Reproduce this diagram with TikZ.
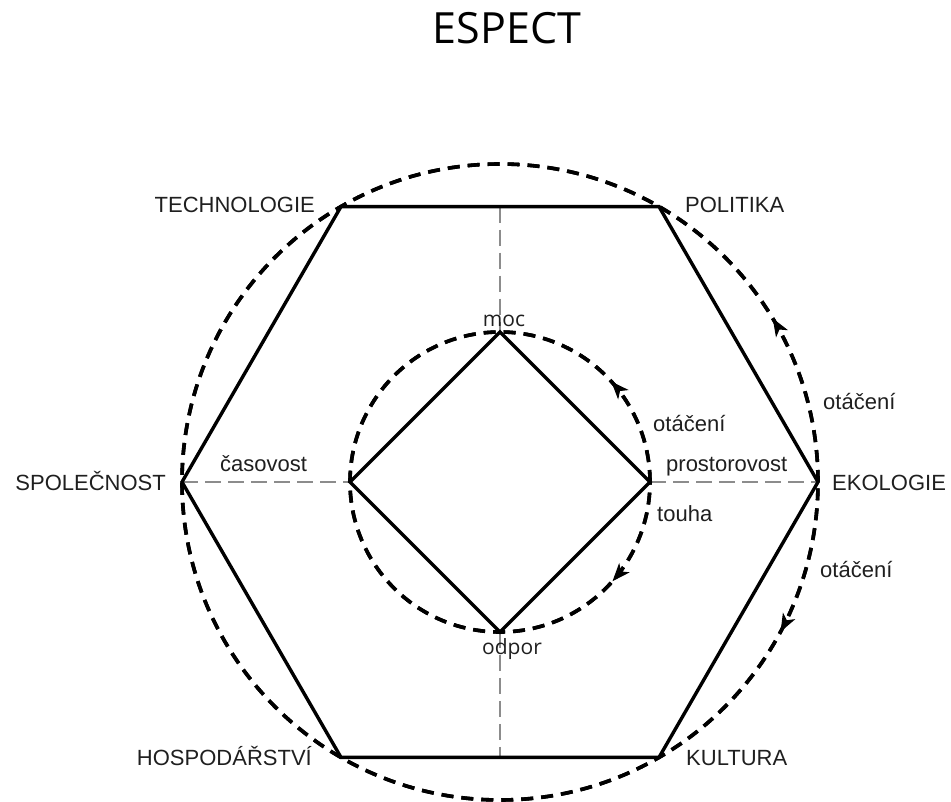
\documentclass[tikz,border=0pt]{standalone}
\usepackage{fontspec}
\setmainfont{Liberation Sans}
\newfontfamily\osans{Open Sans}
\usetikzlibrary{arrows.meta,decorations.markings}
\tikzset{ringtip/.tip={Stealth[length=18pt,width=14pt,inset=5pt]}}
\begin{document}
\begin{tikzpicture}[x=1pt,y=1pt,
  edge/.style={line width=3.4pt,line join=miter},
  ring/.style={line width=3.6pt,dash pattern=on 12pt off 8pt},
  axis/.style={line width=2pt,black!45,dash pattern=on 16pt off 7pt},
  lbl/.style={inner sep=0pt,font=\fontsize{22}{26}\selectfont,text=black!88},
  olbl/.style={inner sep=0pt,font=\osans\fontsize{21}{25}\selectfont,text=black!88},
  ccw/.style={postaction={decorate},decoration={markings,mark=at position #1 with {\arrow[line width=1pt]{ringtip}}}},
  cw/.style={postaction={decorate},decoration={markings,mark=at position #1 with {\arrowreversed[line width=1pt]{ringtip}}}}
]
\useasboundingbox (0,0) rectangle (951,801);
\coordinate (C) at (500,319);
% hexagon vertices
\coordinate (E) at (818,319);
\coordinate (P) at (659,594.4);
\coordinate (T) at (341,594.4);
\coordinate (S) at (182,319);
\coordinate (H) at (341,43.6);
\coordinate (K) at (659,43.6);
\coordinate (TP) at (500,594.4);
\coordinate (HK) at (500,43.6);
% diamond vertices
\coordinate (r) at (650,319);
\coordinate (m) at (500,469);
\coordinate (l) at (350,319);
\coordinate (o) at (500,169);
% grey axes
\draw[axis] (S) -- (l);
\draw[axis] (r) -- (E);
\draw[axis] (TP) -- (m);
\draw[axis] (o) -- (HK);
% circles
\draw[ring,ccw=0.086] (C) circle (318);
\draw[ring,cw=0.922] (C) circle (318);
\draw[ring,ccw=0.117] (C) circle (150);
\draw[ring,cw=0.885] (C) circle (150);
% hexagon and diamond
\draw[edge] (E) -- (P) -- (T) -- (S) -- (H) -- (K) -- cycle;
\draw[edge] (r) -- (m) -- (l) -- (o) -- cycle;
% labels
\node[inner sep=0pt,font=\osans\fontsize{43}{48}\selectfont] (title) at (507,773) {ESPECT};
\node[lbl,anchor=base east] (tech) at (315,588) {TECHNOLOGIE};
\node[lbl,anchor=base west] (pol) at (685,588) {POLITIKA};
\node[lbl,anchor=base east] (spol) at (166,310) {SPOLEČNOST};
\node[lbl,anchor=base west] (eko) at (832,310) {EKOLOGIE};
\node[lbl,anchor=base east] (hosp) at (312,35) {HOSPODÁŘSTVÍ};
\node[lbl,anchor=base west] (kult) at (686,35) {KULTURA};
\node[lbl,anchor=base west] (cas) at (220,329) {časovost};
\node[lbl,anchor=base west] (pros) at (666,329) {prostorovost};
\node[lbl,anchor=base west] (touha) at (657,279) {touha};
\node[lbl,anchor=base west] (ot1) at (653,369) {otáčení};
\node[lbl,anchor=base west] (ot2) at (823,391) {otáčení};
\node[lbl,anchor=base west] (ot3) at (820,223) {otáčení};
\node[olbl,anchor=base] (moc) at (504,474) {moc};
\node[olbl,anchor=base] (odpor) at (512,146) {odpor};
\end{tikzpicture}
\end{document}
